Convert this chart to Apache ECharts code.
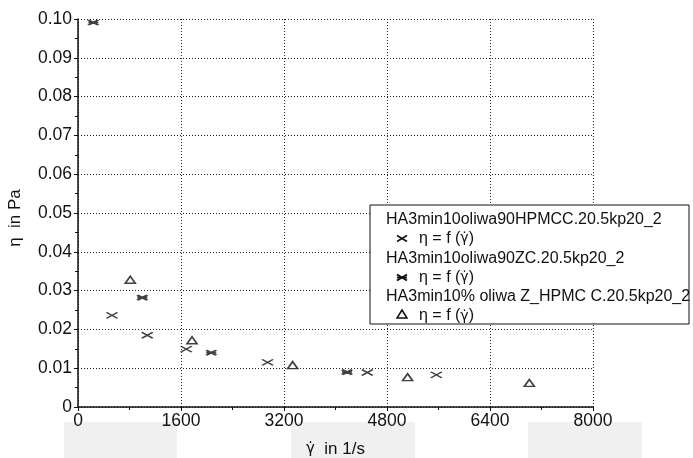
<!DOCTYPE html>
<html><head><meta charset="utf-8">
<script src="https://cdn.jsdelivr.net/npm/echarts@6/dist/echarts.min.js"></script>
<style>html,body{margin:0;padding:0;background:#fff}#c{width:693px;height:458px}</style>
</head><body><div id="c"></div>
<script>
const xTicks = [0, 1600, 3200, 4800, 6400, 8000];
const yTicks = [0, 0.01, 0.02, 0.03, 0.04, 0.05, 0.06, 0.07, 0.08, 0.09, 0.10];
const seriesNames = ['HA3min10oliwa90HPMCC.20.5kp20_2', 'HA3min10oliwa90ZC.20.5kp20_2', 'HA3min10% oliwa Z_HPMC C.20.5kp20_2'];
const shearRate1 = [528, 1076, 1682, 2945, 4494, 5566];
const viscosity1 = [0.0236, 0.0185, 0.0149, 0.0115, 0.0089, 0.0083];
const shearRate2 = [238, 999, 2070, 4179];
const viscosity2 = [0.0991, 0.0282, 0.0140, 0.0090];
const shearRate3 = [812, 1771, 3334, 5120, 7011];
const viscosity3 = [0.0328, 0.0172, 0.0108, 0.0077, 0.0062];

const FONT = '"Liberation Sans", Arial, sans-serif';
const DOTFONT = '"DejaVu Sans", sans-serif';
const CROSS = 'path://M0,0L10,6M0,6L10,0';
const STAR = 'path://M0,0L10,6M0,6L10,0M0,3L10,3';
const pairs = (xs, ys) => xs.map((x, i) => [x, ys[i]]);

const chart = echarts.init(document.getElementById('c'), null, {renderer: 'canvas'});
const lh = 19.3;
const Z = 100;
const seg = (x1, y1, x2, y2, w) => ({type: 'line', z: Z + 1, shape: {x1, y1, x2, y2}, style: {stroke: '#111', lineWidth: w}});
const txt = (x, y, t) => ({type: 'text', z: Z + 1, x, y, style: {text: t, font: '16px ' + FONT, fill: '#111', verticalAlign: 'middle'}});
const eqTxt = (x, y) => ({type: 'text', z: Z + 1, x, y, style: {
  text: '{e|η = f (}{g|γ̇}{e|)}', verticalAlign: 'middle',
  rich: {e: {fontFamily: FONT, fontSize: 16, fill: '#111'}, g: {fontFamily: DOTFONT, fontSize: 14, fill: '#111'}}}});
chart.setOption({
  animation: false,
  backgroundColor: '#fff',
  grid: {left: 78, right: 100, top: 19, bottom: 51, outerBoundsMode: 'none', containLabel: false},
  xAxis: {
    type: 'value', min: xTicks[0], max: xTicks[xTicks.length - 1], interval: 1600,
    name: '{g|γ̇}{e|  in 1/s}', nameLocation: 'middle', nameGap: 34,
    nameTextStyle: {rich: {e: {fontFamily: FONT, fontSize: 17, color: '#111'}, g: {fontFamily: DOTFONT, fontSize: 15, color: '#111'}}},
    axisLine: {show: true, lineStyle: {color: '#111', width: 1.5}},
    axisTick: {show: true, length: 4, lineStyle: {color: '#111'}},
    minorTick: {show: true, splitNumber: 2, length: 3, lineStyle: {color: '#111'}},
    axisLabel: {fontFamily: FONT, fontSize: 17.5, color: '#111', margin: 5, formatter: v => String(v)},
    splitLine: {show: true, lineStyle: {color: '#222', type: [1, 2], width: 1}}
  },
  yAxis: {
    type: 'value', min: yTicks[0], max: yTicks[yTicks.length - 1], interval: 0.01,
    name: 'η  in Pa', nameLocation: 'middle', nameGap: 54, nameRotate: 90,
    nameTextStyle: {fontFamily: FONT, fontSize: 17, color: '#111', padding: [0, 10, 0, 0]},
    axisLine: {show: true, lineStyle: {color: '#111', width: 1.5}},
    axisTick: {show: true, length: 4, lineStyle: {color: '#111'}},
    minorTick: {show: true, splitNumber: 2, length: 3, lineStyle: {color: '#111'}},
    axisLabel: {fontFamily: FONT, fontSize: 17.5, color: '#111', margin: 6,
      formatter: v => v === 0 ? '0' : v.toFixed(2)},
    splitLine: {show: true, lineStyle: {color: '#222', type: [1, 2], width: 1}}
  },
  series: [
    {type: 'scatter', name: seriesNames[0], data: pairs(shearRate1, viscosity1),
     symbol: CROSS, symbolSize: [11, 6],
     itemStyle: {color: 'transparent', borderColor: '#111', borderWidth: 1.6}},
    {type: 'scatter', name: seriesNames[1], data: pairs(shearRate2, viscosity2),
     symbol: STAR, symbolSize: [10, 5],
     itemStyle: {color: 'transparent', borderColor: '#111', borderWidth: 2.2}},
    {type: 'scatter', name: seriesNames[2], data: pairs(shearRate3, viscosity3),
     symbol: 'triangle', symbolSize: [10, 7],
     itemStyle: {color: '#fff', borderColor: '#111', borderWidth: 1.6}}
  ],
  graphic: [
    {type: 'rect', z: -10, silent: true, shape: {x: 64, y: 422, width: 113, height: 40}, style: {fill: '#f0f0f0'}},
    {type: 'rect', z: -10, silent: true, shape: {x: 291, y: 422, width: 124, height: 40}, style: {fill: '#f0f0f0'}},
    {type: 'rect', z: -10, silent: true, shape: {x: 528, y: 422, width: 114, height: 40}, style: {fill: '#f0f0f0'}},
    {type: 'group', z: Z, x: 370, y: 205, children: [
      {type: 'rect', z: Z, shape: {x: 0, y: 0, width: 319, height: 119}, style: {fill: '#fff', stroke: '#111', lineWidth: 1}},
      txt(16, 14.5, seriesNames[0]),
      seg(27, 30.5, 37, 36.5, 1.5), seg(27, 36.5, 37, 30.5, 1.5),
      eqTxt(49, 14.5 + lh),
      txt(16, 14.5 + 2 * lh, seriesNames[1]),
      seg(27, 69.5, 37, 75.5, 2), seg(27, 75.5, 37, 69.5, 2), seg(27, 72.5, 37, 72.5, 2),
      eqTxt(49, 14.5 + 3 * lh),
      txt(16, 14.5 + 4 * lh, seriesNames[2]),
      {type: 'polygon', z: Z + 1, shape: {points: [[32, 105], [27, 113], [37, 113]]}, style: {stroke: '#111', lineWidth: 1.5, fill: '#fff'}},
      eqTxt(49, 14.5 + 5 * lh)
    ]}
  ]
});
</script></body></html>
